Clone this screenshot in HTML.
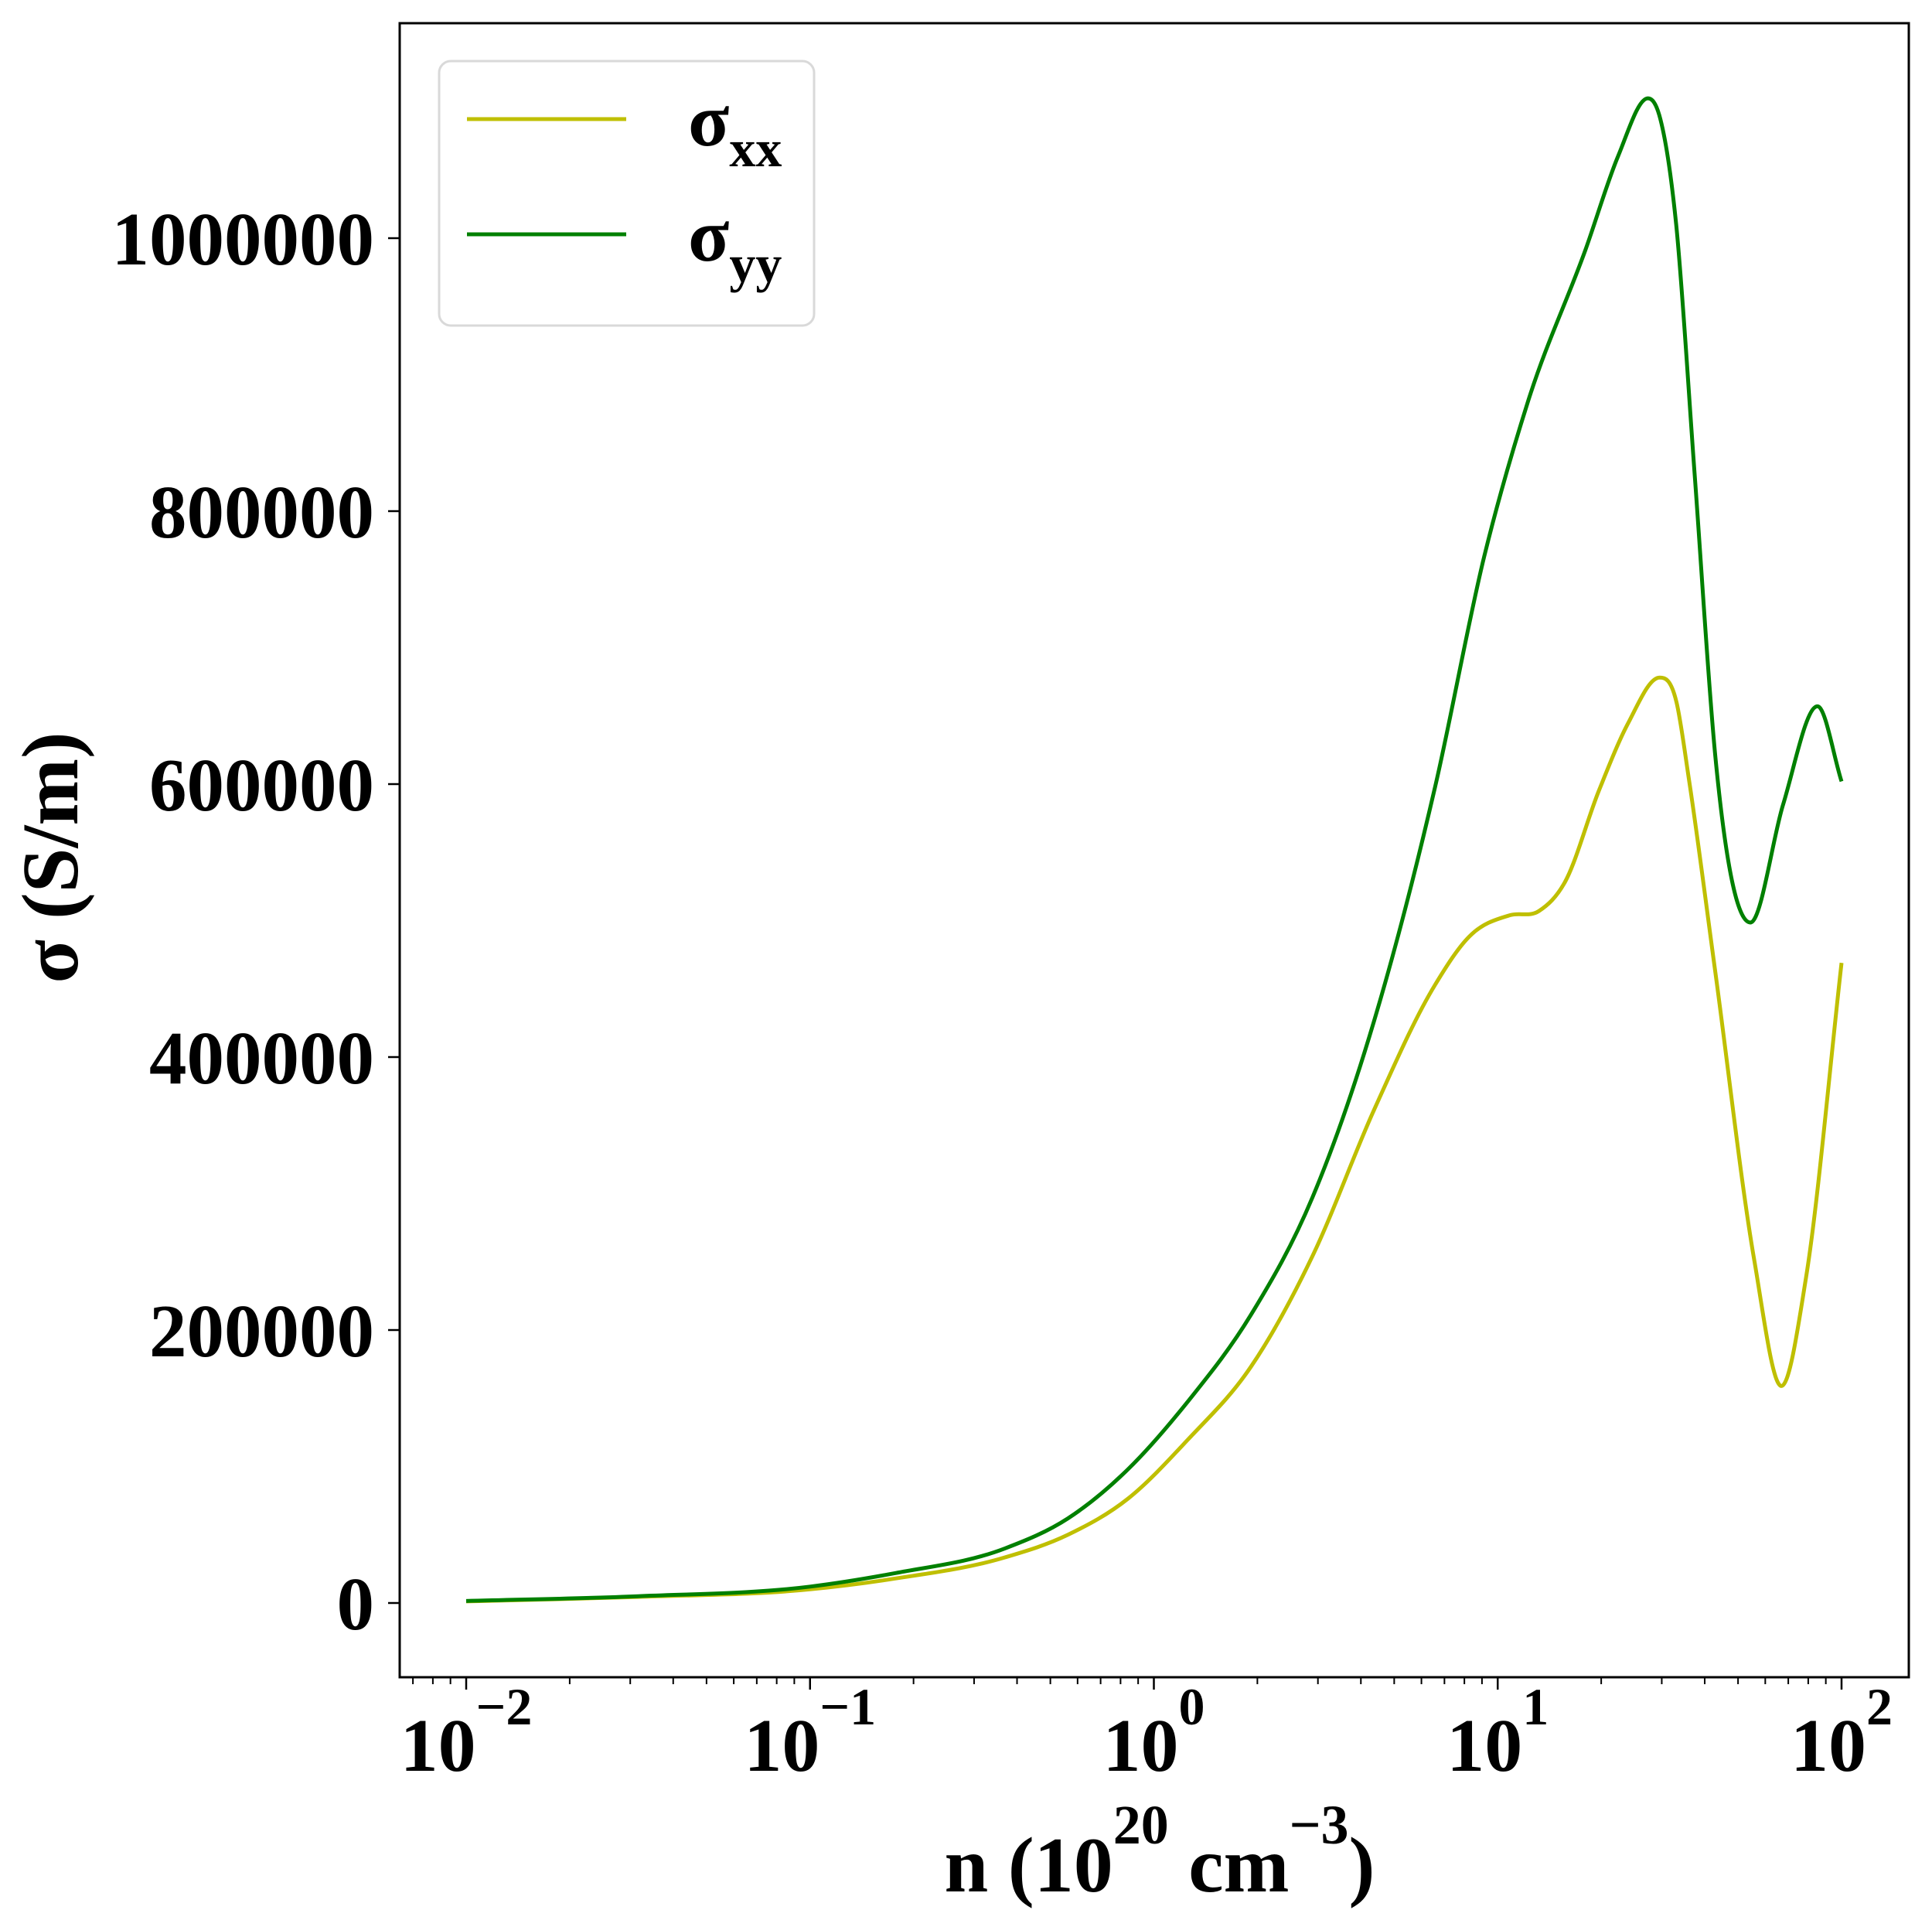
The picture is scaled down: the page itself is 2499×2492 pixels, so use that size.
<!DOCTYPE html>
<html><head><meta charset="utf-8"><style>
html,body{margin:0;padding:0;background:#fff;}
svg{display:block;}
text{font-family:"Liberation Serif",serif;font-weight:bold;fill:#000;}
</style></head><body>
<svg id="chart" width="2499" height="2492" viewBox="0 0 2499 2492" xmlns="http://www.w3.org/2000/svg">
<rect x="0" y="0" width="2499" height="2492" fill="#fff"/>
<g id="ticks"></g>
<g id="series"></g>
<rect x="517" y="30" width="1952" height="2139" fill="none" stroke="#000" stroke-width="3"/>
<g>
<rect x="568" y="79" width="485" height="342" rx="15" fill="#fff" stroke="#d9d9d9" stroke-width="3"/>
<line x1="604" y1="154" x2="810" y2="154" stroke="#bfbf00" stroke-width="5"/>
<line x1="604" y1="303" x2="810" y2="303" stroke="#008000" stroke-width="5"/>
<text x="890" y="188" font-size="98">σ<tspan font-size="68" dy="27">xx</tspan></text>
<text x="890" y="337" font-size="98">σ<tspan font-size="68" dy="27">yy</tspan></text>
</g>
<text x="1500" y="2446" font-size="102" text-anchor="middle">n (10<tspan font-size="72" dy="-62">20</tspan><tspan dy="62"> cm</tspan><tspan font-size="72" dy="-62">−3</tspan><tspan dy="62">)</tspan></text>
<text x="0" y="0" font-size="104" text-anchor="middle" transform="translate(100,1109) rotate(-90)">σ (S/m)</text>
</svg>
<script>
const xTickExps = [-2, -1, 0, 1, 2];
const xTickLabels = ["−2", "−1", "0", "1", "2"];
const yTickValues = [0, 200000, 400000, 600000, 800000, 1000000];
const yTickLabels = ["0", "200000", "400000", "600000", "800000", "1000000"];
const logN = {
  xx: [-2, -1.5, -1, -0.75, -0.433, -0.25, -0.075, 0.1, 0.282, 0.461, 0.64, 0.818, 0.916, 1.037, 1.12, 1.195, 1.294, 1.38, 1.471, 1.52, 1.557, 1.633, 1.746, 1.825, 1.897, 2.0],
  yy: [-2, -1.5, -1, -0.75, -0.433, -0.25, -0.075, 0.1, 0.282, 0.461, 0.64, 0.818, 0.961, 1.089, 1.256, 1.35, 1.437, 1.47, 1.519, 1.572, 1.633, 1.735, 1.83, 1.93, 2.0]
};
const sigmaXX = [1200, 4500, 10000, 18000, 33400, 50000, 76500, 120000, 173000, 254000, 361000, 453000, 488000, 504000, 507000, 528000, 595000, 645000, 678000, 660000, 602000, 462000, 251500, 159000, 239000, 469000];
const sigmaYY = [1500, 5000, 12000, 22000, 40000, 62000, 98000, 148000, 211000, 297000, 426000, 598000, 767000, 881000, 992000, 1060000, 1102500, 1090000, 1010000, 830000, 620000, 498600, 585000, 657000, 602000];

const NS = "http://www.w3.org/2000/svg";
const X0 = 603, DEC = 444.75, Y0 = 2073, YPER = 353 / 200000;
function xs(l) { return X0 + (l + 2) * DEC; }
function ys(v) { return Y0 - v * YPER; }
function mk(tag, attrs, parent) {
  const e = document.createElementNS(NS, tag);
  for (const k in attrs) e.setAttribute(k, attrs[k]);
  parent.appendChild(e); return e;
}
const ticks = document.getElementById("ticks");
xTickExps.forEach((ex, i) => {
  const x = xs(ex);
  const t = mk("line", {x1: x, y1: 2169, x2: x, y2: 2185, stroke: "#000", "stroke-width": 2.5}, ticks);
  
  
  const tx = mk("text", {x: x, y: 2290, "font-size": 98, "text-anchor": "middle"}, ticks);
  
  
  const a = document.createElementNS(NS, "tspan"); a.textContent = "10"; tx.appendChild(a);
  const b = document.createElementNS(NS, "tspan"); b.setAttribute("font-size", "68"); b.setAttribute("dy", "-60"); b.textContent = xTickLabels[i]; tx.appendChild(b);
});
for (let d = -3; d <= 2; d++) {
  for (let m = 2; m <= 9; m++) {
    const l = d + Math.log10(m);
    const x = xs(l);
    if (x < 519 || x > 2467) continue;
    const t = mk("line", {x1: x, y1: 2169, x2: x, y2: 2178, stroke: "#000", "stroke-width": 2}, ticks);
    
    
  }
}
yTickValues.forEach((v, i) => {
  const y = ys(v);
  const t = mk("line", {x1: 502, y1: y, x2: 517, y2: y, stroke: "#000", "stroke-width": 2.5}, ticks);
  
  
  const tx = mk("text", {x: 484, y: y + 34, "font-size": 97, "text-anchor": "end"}, ticks);
  
  
  tx.textContent = yTickLabels[i];
});
function smoothPath(px, py) {
  const n = px.length, dx = [], s = [], m = [];
  for (let i = 0; i < n - 1; i++) { dx[i] = px[i+1] - px[i]; s[i] = (py[i+1] - py[i]) / dx[i]; }
  m[0] = s[0]; m[n-1] = s[n-2];
  for (let i = 1; i < n - 1; i++) {
    if (s[i-1] * s[i] <= 0) m[i] = 0;
    else m[i] = (s[i-1] * dx[i] + s[i] * dx[i-1]) / (dx[i] + dx[i-1]);
  }
  let d = "M" + px[0].toFixed(1) + "," + py[0].toFixed(1);
  for (let i = 0; i < n - 1; i++) {
    const h = dx[i] / 3;
    d += " C" + (px[i] + h).toFixed(1) + "," + (py[i] + m[i]*h).toFixed(1) + " " +
      (px[i+1] - h).toFixed(1) + "," + (py[i+1] - m[i+1]*h).toFixed(1) + " " +
      px[i+1].toFixed(1) + "," + py[i+1].toFixed(1);
  }
  return d;
}
const series = document.getElementById("series");
const pXX = mk("path", {d: smoothPath(logN.xx.map(xs), sigmaXX.map(ys)), fill: "none", stroke: "#bfbf00", "stroke-width": 5, "stroke-linejoin": "round"}, series);


const pYY = mk("path", {d: smoothPath(logN.yy.map(xs), sigmaYY.map(ys)), fill: "none", stroke: "#008000", "stroke-width": 5, "stroke-linejoin": "round"}, series);


</script>
</body></html>
